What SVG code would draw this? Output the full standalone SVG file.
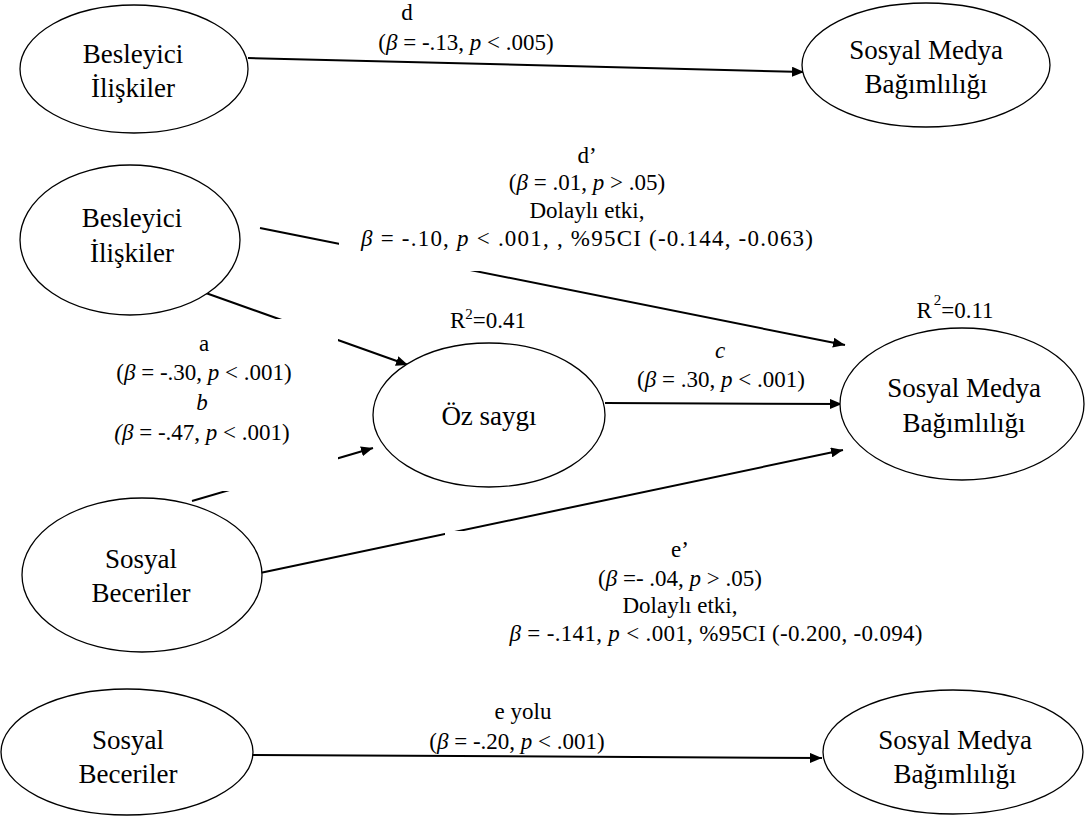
<svg xmlns="http://www.w3.org/2000/svg" width="1087" height="821" viewBox="0 0 1087 821">
<style>
.node ellipse{fill:#fff;stroke:#000;stroke-width:1.3}
.nt{font-family:"Liberation Serif","Times New Roman",serif;font-size:27px;fill:#000;text-anchor:middle}
.lt{font-family:"Liberation Serif","Times New Roman",serif;font-size:23px;fill:#000;text-anchor:middle}
.it{font-style:italic}
.edge{stroke:#000;stroke-width:2;fill:none}
.box{fill:#fff}
</style>
<defs>
<marker id="ah" viewBox="0 0 12 10" refX="12" refY="5" markerWidth="12" markerHeight="10" markerUnits="userSpaceOnUse" orient="auto">
<path d="M0,0 L12,5 L0,10 z" fill="#000"/>
</marker>
</defs>
<rect width="1087" height="821" fill="#fff"/>
<g id="connectors">
<line class="edge" x1="248" y1="58" x2="804" y2="72" marker-end="url(#ah)"/>
<line class="edge" x1="260" y1="228" x2="845" y2="345" marker-end="url(#ah)"/>
<line class="edge" x1="203" y1="292" x2="408" y2="365" marker-end="url(#ah)"/>
<line class="edge" x1="192" y1="501" x2="373" y2="448" marker-end="url(#ah)"/>
<line class="edge" x1="605" y1="403" x2="842" y2="404" marker-end="url(#ah)"/>
<line class="edge" x1="260" y1="573" x2="843" y2="450" marker-end="url(#ah)"/>
<line class="edge" x1="252" y1="755" x2="822" y2="758" marker-end="url(#ah)"/>
</g>
<g id="label-boxes">
<rect class="box" x="339" y="140" width="500" height="131"/>
<rect class="box" x="70" y="319" width="268" height="172"/>
<rect class="box" x="445" y="531" width="500" height="120"/>
</g>
<g id="n-besleyici-top" class="node">
<ellipse cx="134" cy="69" rx="114" ry="64"/>
<text class="nt" x="133" y="63">Besleyici</text>
<text class="nt" x="133" y="97">İlişkiler</text>
</g>
<g id="n-smb-top" class="node">
<ellipse cx="926" cy="65" rx="124" ry="62"/>
<text class="nt" x="926" y="59">Sosyal Medya</text>
<text class="nt" x="926" y="93">Bağımlılığı</text>
</g>
<g id="n-besleyici-mid" class="node">
<ellipse cx="130" cy="240" rx="110" ry="75"/>
<text class="nt" x="132" y="227">Besleyici</text>
<text class="nt" x="132" y="262">İlişkiler</text>
</g>
<g id="n-ozsaygi" class="node">
<ellipse cx="489" cy="415" rx="116" ry="72"/>
<text class="nt" x="489" y="425">Öz saygı</text>
</g>
<g id="n-smb-mid" class="node">
<ellipse cx="962" cy="404" rx="122" ry="76"/>
<text class="nt" x="964" y="397">Sosyal Medya</text>
<text class="nt" x="964" y="432">Bağımlılığı</text>
</g>
<g id="n-sosyal-mid" class="node">
<ellipse cx="142" cy="575" rx="120" ry="77"/>
<text class="nt" x="141" y="568">Sosyal</text>
<text class="nt" x="141" y="602">Beceriler</text>
</g>
<g id="n-sosyal-bottom" class="node">
<ellipse cx="127" cy="752" rx="126" ry="63"/>
<text class="nt" x="128" y="749">Sosyal</text>
<text class="nt" x="128" y="783">Beceriler</text>
</g>
<g id="n-smb-bottom" class="node">
<ellipse cx="953" cy="752" rx="130" ry="62"/>
<text class="nt" x="955" y="749">Sosyal Medya</text>
<text class="nt" x="955" y="783">Bağımlılığı</text>
</g>
<g id="labels">
<text class="lt" x="407" y="20">d</text>
<text class="lt" x="466" y="50">(<tspan class="it">β</tspan> = -.13, <tspan class="it">p</tspan> &lt; .005)</text>
<text class="lt" x="587" y="163">d’</text>
<text class="lt" x="587" y="190">(<tspan class="it">β</tspan> = .01, <tspan class="it">p</tspan> &gt; .05)</text>
<text class="lt" x="587" y="218">Dolaylı etki,</text>
<text class="lt" x="587" y="246" textLength="452" lengthAdjust="spacing"><tspan class="it">β</tspan> = -.10, <tspan class="it">p</tspan> &lt; .001, , %95CI (-0.144, -0.063)</text>
<text class="lt" x="488" y="328">R<tspan font-size="15" dy="-9">2</tspan><tspan dy="9">=0.41</tspan></text>
<text class="lt" x="955" y="318">R<tspan font-size="15" dx="2" dy="-13">2</tspan><tspan dy="13">=0.11</tspan></text>
<text class="lt" x="204" y="351">a</text>
<text class="lt" x="204" y="380">(<tspan class="it">β</tspan> = -.30, <tspan class="it">p</tspan> &lt; .001)</text>
<text class="lt it" x="202" y="410">b</text>
<text class="lt" x="202" y="440"><tspan class="it">(β</tspan> = -.47, <tspan class="it">p</tspan> &lt; .001)</text>
<text class="lt it" x="720" y="358">c</text>
<text class="lt" x="721" y="387">(<tspan class="it">β</tspan> = .30, <tspan class="it">p</tspan> &lt; .001)</text>
<text class="lt" x="680" y="557" font-size="28">e’</text>
<text class="lt" x="680" y="586">(<tspan class="it">β</tspan> =- .04, <tspan class="it">p</tspan> &gt; .05)</text>
<text class="lt" x="680" y="613">Dolaylı etki,</text>
<text class="lt" x="716" y="641" textLength="413" lengthAdjust="spacing"><tspan class="it">β</tspan> = -.141, <tspan class="it">p</tspan> &lt; .001, %95CI (-0.200, -0.094)</text>
<text class="lt" x="523" y="719">e yolu</text>
<text class="lt" x="517" y="749">(<tspan class="it">β</tspan> = -.20, <tspan class="it">p</tspan> &lt; .001)</text>
</g>
</svg>
